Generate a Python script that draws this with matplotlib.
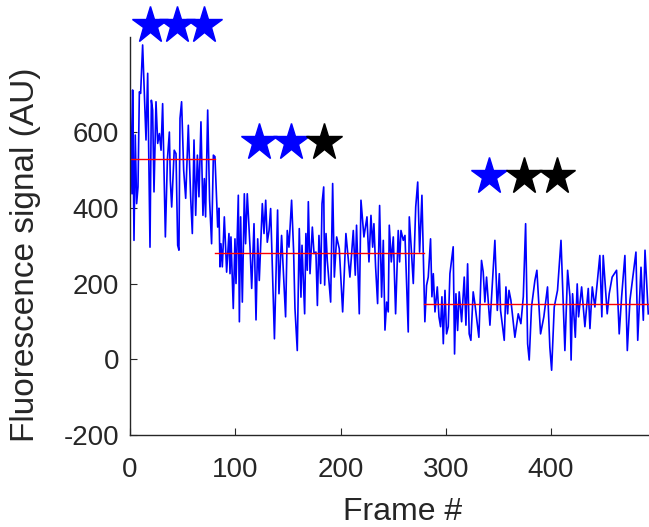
import matplotlib.pyplot as plt

plt.rcParams['font.family'] = ['Liberation Sans', 'DejaVu Sans']
plt.rcParams['axes.unicode_minus'] = False

# trace vertices (frame number, signal in AU)
frames = [
    0, 1.9, 2.5, 3.8, 5.0, 6.3, 7.6, 8.9, 10.1, 12.0,
    13.9, 15.2, 16.8, 19.0, 20.3, 21.5, 22.8, 24.7, 26.3, 27.9,
    29.5, 31.0, 33.6, 35.5, 37.4, 38.3, 39.6, 42.0, 43.7, 45.3,
    46.5, 47.5, 49.0, 51.0, 52.9, 55.4, 57.6, 59.2, 60.8, 62.4,
    64.0, 65.5, 67.4, 69.3, 70.6, 71.8, 73.8, 75.6, 77.5, 79.2,
    80.7, 83.3, 84.5, 85.5, 86.4, 87.7, 89.6, 91.8, 94.0, 95.0,
    95.9, 98.1, 99.7, 100.7, 102.9, 103.9, 105.1, 106.7, 108.6, 109.8,
    111.4, 113.0, 114.0, 115.6, 117.8, 119.7, 121.3, 122.8, 125.7, 127.3,
    128.9, 130.4, 132.1, 133.6, 137.2, 140.2, 141.5, 144.0, 147.8, 149.4,
    151.0, 153.5, 155.4, 156.7, 158.9, 160.8, 162.4, 163.4, 164.6, 165.9,
    167.1, 168.4, 169.4, 171.0, 173.2, 174.8, 176.6, 178.0, 179.5, 181.1,
    182.4, 184.0, 184.9, 186.2, 187.4, 190.6, 192.5, 194.1, 196.3, 198.8,
    202.0, 205.1, 208.9, 212.1, 214.0, 215.2, 217.8, 219.4, 222.2, 225.1,
    227.0, 228.9, 230.5, 231.7, 233.3, 235.2, 237.1, 239.0, 240.6, 242.2,
    243.8, 245.3, 246.3, 248.2, 250.1, 252.3, 254.8, 256.1, 257.4, 259.6,
    261.2, 264.3, 265.3, 266.9, 269.1, 271.4, 273.3, 275.1, 277.3, 280.1,
    281.7, 283.3, 285.5, 286.8, 288.1, 289.7, 291.9, 293.5, 295.0, 296.3,
    297.6, 299.2, 300.7, 302.3, 303.9, 307.0, 308.3, 309.6, 311.2, 312.7,
    315.0, 317.5, 319.1, 320.7, 322.2, 323.8, 326.0, 327.6, 331.4, 333.9,
    335.5, 337.1, 338.7, 341.9, 346.6, 348.9, 350.8, 352.0, 355.5, 357.1,
    358.7, 360.0, 361.8, 365.6, 368.8, 371.3, 373.6, 375.8, 377.7, 379.2,
    381.4, 384.6, 386.5, 390.0, 393.1, 396.6, 398.8, 400.5, 403.0, 406.1,
    409.4, 413.1, 415.7, 417.9, 419.0, 420.4, 423.0, 424.8, 426.1, 429.0,
    432.1, 435.3, 436.9, 439.1, 441.6, 446.3, 448.2, 449.5, 453.3, 455.2,
    458.0, 462.2, 464.7, 467.0, 470.1, 472.4, 474.9, 478.1, 480.6, 482.3,
    485.4, 487.6, 489.2, 492.3,
]
signal = [
    715, 437, 711, 314, 592, 411, 455, 706, 702, 830,
    684, 579, 755, 296, 684, 658, 442, 680, 570, 596,
    552, 675, 323, 526, 600, 473, 402, 552, 543, 301,
    288, 636, 680, 499, 425, 618, 429, 332, 579, 380,
    539, 429, 627, 380, 477, 376, 658, 420, 305, 539,
    535, 349, 399, 244, 305, 244, 376, 230, 332, 226,
    323, 134, 318, 200, 433, 99, 376, 151, 437, 305,
    437, 349, 296, 187, 358, 104, 318, 208, 411, 332,
    420, 309, 340, 398, 54, 394, 173, 327, 112, 340,
    296, 420, 287, 134, 23, 345, 164, 301, 217, 120,
    332, 235, 416, 226, 349, 279, 283, 142, 327, 200,
    411, 455, 196, 332, 261, 151, 464, 217, 323, 292,
    125, 332, 217, 340, 222, 354, 120, 420, 323, 376,
    257, 380, 296, 358, 244, 147, 406, 164, 314, 77,
    151, 125, 354, 257, 323, 120, 340, 257, 340, 314,
    327, 72, 376, 305, 200, 402, 468, 283, 433, 99,
    195, 217, 318, 165, 226, 125, 191, 112, 86, 165,
    41, 182, 67, 86, 226, 297, 14, 173, 76, 178,
    99, 217, 90, 252, 67, 50, 178, 147, 58, 261,
    231, 151, 217, 90, 314, 129, 226, 129, 50, 191,
    120, 182, 156, 58, 120, 94, 165, 358, 41, -2,
    138, 208, 235, 67, 112, 191, 32, -29, 138, 182,
    314, 23, 235, 165, -2, 173, 58, 199, 112, 191,
    86, 187, 81, 191, 138, 274, 112, 274, 120, 173,
    217, 235, 67, 165, 274, 23, 156, 226, 283, 50,
    243, 103, 288, 120,
]

# fitted step levels
step_edges = [0, 81, 279, 493]
step_levels = [528, 281, 147]

# stars above each step: active (blue) / bleached (black)
star_x = [[19, 45, 70], [123, 153, 184], [341, 374, 406]]
star_y = [882, 573, 485]
star_col = [['blue', 'blue', 'blue'],
            ['blue', 'blue', 'black'],
            ['blue', 'black', 'black']]

fig = plt.figure(figsize=(6.49, 5.27), dpi=100)
ax = fig.add_axes([0.2003, 0.1746, 0.7997, 0.7552])

ax.plot(frames, signal, color='blue', lw=1.2)
for i in range(len(step_levels)):
    ax.plot([step_edges[i], step_edges[i + 1]], [step_levels[i]] * 2,
            color='red', lw=1)

for xs, y, cols in zip(star_x, star_y, star_col):
    for x, c in zip(xs, cols):
        ax.plot(x, y, marker='*', ms=28, color=c, mec=c, ls='none',
                clip_on=False, zorder=5)

ax.set_xlim(0, 493)
ax.set_ylim(-200, 851)
ax.set_xticks([0, 100, 200, 300, 400])
ax.set_yticks([-200, 0, 200, 400, 600])

for s in ['top', 'right']:
    ax.spines[s].set_visible(False)
for s in ['left', 'bottom']:
    ax.spines[s].set_color('#262626')
    ax.spines[s].set_linewidth(1)
ax.tick_params(direction='in', length=5, colors='#262626', labelsize=20)
ax.tick_params(axis='x', pad=16)
ax.tick_params(axis='y', pad=8)

ax.set_xlabel('Frame #', fontsize=23, color='#262626')
ax.set_ylabel('Fluorescence signal (AU)', fontsize=24, color='#262626')
ax.xaxis.set_label_coords(0.526, -0.155)
ax.yaxis.set_label_coords(-0.172, 0.452)

fig.savefig('out.png', dpi=100)
